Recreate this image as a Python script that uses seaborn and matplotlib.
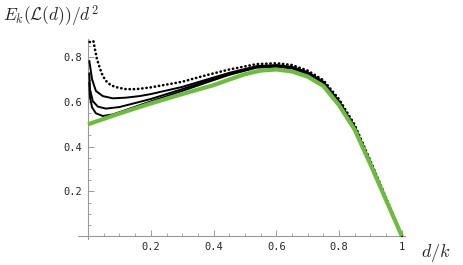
import numpy as np
import pandas as pd
import matplotlib
matplotlib.use('Agg')
import matplotlib.pyplot as plt
import seaborn as sns
from matplotlib.ticker import MultipleLocator, FixedLocator

sns.set_style('white')
plt.rcParams['mathtext.fontset'] = 'cm'

# limit curve (green)
x_limit = [0.0, 0.1, 0.2, 0.3, 0.4, 0.45, 0.5, 0.55, 0.6, 0.65, 0.7, 0.75, 0.8, 0.85, 0.9, 0.95, 1.0]
y_limit = [0.50, 0.548, 0.593, 0.635, 0.675, 0.700, 0.724, 0.740, 0.745, 0.736, 0.713, 0.671, 0.585, 0.475, 0.32, 0.16, 0.0]

# finite k curves (black), top one is the sparse dotted one
x_a = [0.005, 0.017, 0.028, 0.038, 0.047, 0.057, 0.073, 0.095, 0.121, 0.153, 0.2, 0.3, 0.378, 0.45,
       0.537, 0.6, 0.65, 0.7, 0.75, 0.8, 0.85, 0.9, 0.95, 1.0]
y_a = [0.868, 0.872, 0.793, 0.749, 0.716, 0.694, 0.674, 0.664, 0.657, 0.657, 0.665, 0.69, 0.72, 0.745,
       0.769, 0.773, 0.765, 0.74, 0.697, 0.612, 0.497, 0.336, 0.17, 0.0]

x_b = [0.004, 0.013, 0.025, 0.047, 0.079, 0.121, 0.164, 0.2, 0.3, 0.378, 0.45, 0.537, 0.6, 0.65, 0.7,
       0.75, 0.8, 0.85, 0.9, 0.95, 1.0]
y_b = [0.783, 0.70, 0.649, 0.626, 0.616, 0.619, 0.626, 0.635, 0.667, 0.70, 0.73, 0.76, 0.765, 0.757,
       0.733, 0.69, 0.603, 0.488, 0.33, 0.165, 0.0]

x_c = [0.004, 0.006, 0.015, 0.031, 0.057, 0.1, 0.153, 0.2, 0.3, 0.378, 0.45, 0.537, 0.6, 0.65, 0.7,
       0.75, 0.8, 0.85, 0.9, 0.95, 1.0]
y_c = [0.728, 0.657, 0.604, 0.579, 0.570, 0.577, 0.596, 0.613, 0.657, 0.694, 0.726, 0.756, 0.761, 0.753,
       0.729, 0.686, 0.598, 0.484, 0.326, 0.163, 0.0]

x_d = [0.004, 0.006, 0.013, 0.025, 0.047, 0.079, 0.121, 0.164, 0.2, 0.3, 0.378, 0.45, 0.537, 0.6, 0.65,
       0.7, 0.75, 0.8, 0.85, 0.9, 0.95, 1.0]
y_d = [0.686, 0.62, 0.575, 0.549, 0.537, 0.544, 0.564, 0.585, 0.602, 0.649, 0.687, 0.721, 0.753, 0.757,
       0.749, 0.725, 0.682, 0.594, 0.481, 0.324, 0.162, 0.0]

fig = plt.figure(figsize=(4.63, 2.65), dpi=100)
ax = fig.add_axes([0.1685, 0.0966, 0.7062, 0.7551])

green = '#6cbd3c'

for xs, ys in [(x_b, y_b), (x_c, y_c), (x_d, y_d)]:
    sns.lineplot(x=xs, y=ys, ax=ax, color='black', linewidth=1.4, sort=False, estimator=None, zorder=3)

sns.lineplot(x=x_a, y=y_a, ax=ax, color='black', linewidth=1.9, sort=False, estimator=None,
             linestyle=(0, (0.1, 1.5)), dash_capstyle='round', zorder=4)

sns.lineplot(x=x_limit, y=y_limit, ax=ax, color=green, linewidth=3.0, sort=False, estimator=None,
             solid_capstyle='butt', zorder=5)

ax.set_xlim(-0.032, 1.01)
ax.set_ylim(-0.015, 0.88)

for side in ['top', 'right']:
    ax.spines[side].set_visible(False)
ax.spines['left'].set_position(('data', 0))
ax.spines['bottom'].set_position(('data', 0))
for side in ['left', 'bottom']:
    ax.spines[side].set_color('#999999')
    ax.spines[side].set_linewidth(0.8)

ax.xaxis.set_major_locator(FixedLocator([0.2, 0.4, 0.6, 0.8, 1.0]))
ax.xaxis.set_minor_locator(MultipleLocator(0.05))
ax.yaxis.set_major_locator(FixedLocator([0.2, 0.4, 0.6, 0.8]))
ax.yaxis.set_minor_locator(MultipleLocator(0.05))
ax.set_xticklabels(['0.2', '0.4', '0.6', '0.8', '1'])
ax.set_yticklabels(['0.2', '0.4', '0.6', '0.8'])

ax.tick_params(which='major', direction='in', length=4, width=0.7, color='#999999',
               labelsize=7.5, pad=4, labelfontfamily='DejaVu Sans Mono')
ax.tick_params(which='minor', direction='in', length=2, width=0.6, color='#999999')
ax.tick_params(axis='x', which='both', bottom=True)
ax.tick_params(axis='y', which='both', left=True)

fig.text(0.006, 0.985, r'$E_k(\mathcal{L}(d))/d^2$', fontsize=12.5, ha='left', va='top')
fig.text(0.942, 0.045, r'$d/k$', fontsize=13, ha='center', va='center')

fig.savefig('out.png', dpi=100)
